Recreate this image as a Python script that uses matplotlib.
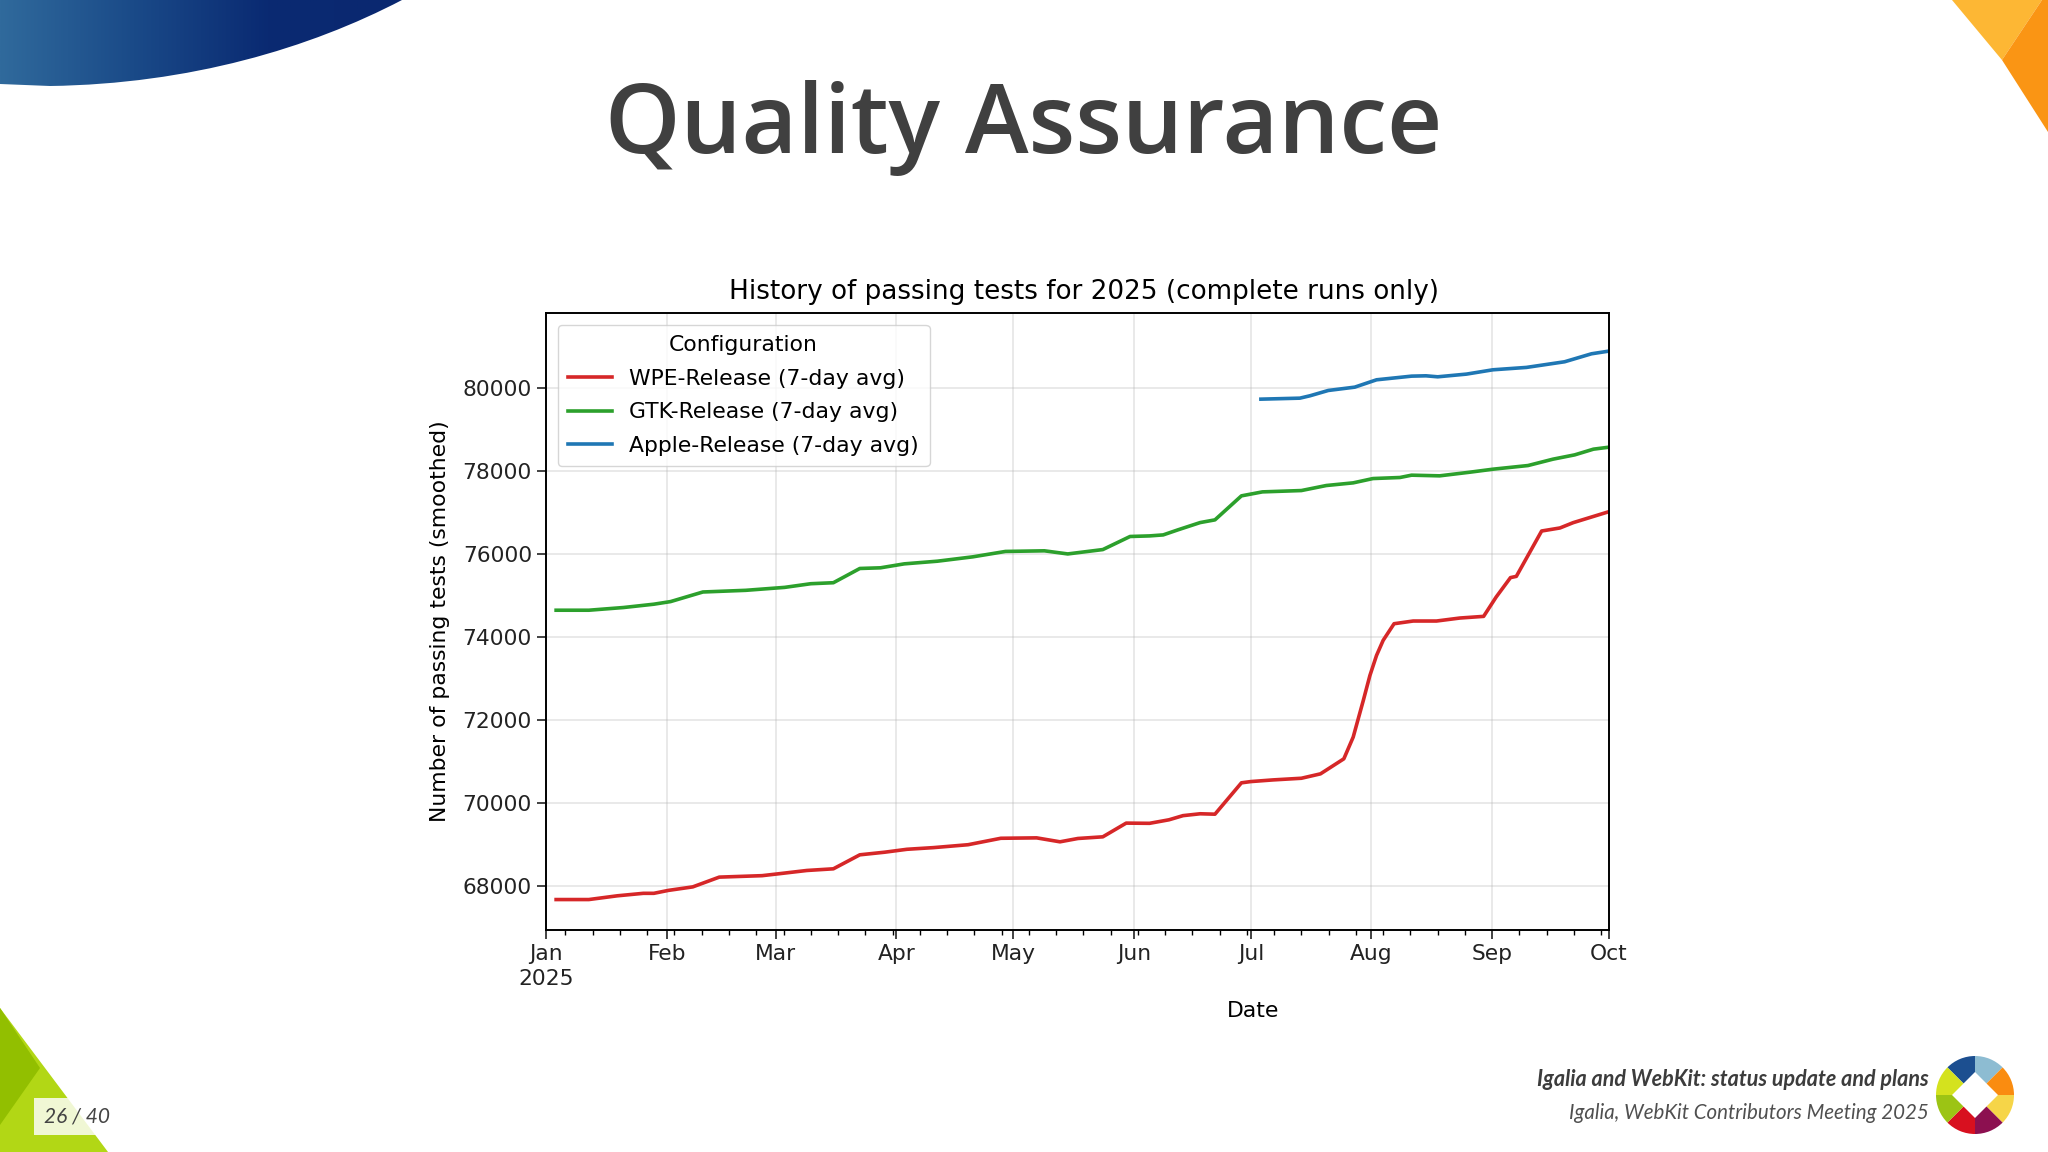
import numpy as np
import pandas as pd
import matplotlib
matplotlib.use('Agg')
import matplotlib.pyplot as plt
import matplotlib.dates as mdates
from matplotlib.patches import Polygon, PathPatch, Wedge, Rectangle
from matplotlib.path import Path

# days since 2025-01-01 and passing tests
wpe_days = [2.6, 11, 18.3, 25, 27.7, 31.4, 37.7, 44.5, 55.5, 59.7, 67, 73.8, 80.6, 87, 92.7, 99.5,
            108.4, 116.8, 126, 132, 136.6, 143, 149, 155, 160, 163.6, 168, 171.8, 178.6, 181, 186.7,
            194, 198.9, 204.9, 207.3, 209.9, 211.6, 213.3, 215, 217.8, 222.7, 228.7, 234.7, 240.8,
            244, 247.7, 249.2, 255.7, 260.4, 263.8, 268, 273]
wpe_vals = [67680, 67680, 67770, 67830, 67830, 67900, 67985, 68220, 68255, 68300, 68380, 68420, 68757,
            68820, 68890, 68930, 69000, 69155, 69165, 69070, 69150, 69190, 69520, 69515, 69600, 69700,
            69745, 69735, 70490, 70520, 70560, 70600, 70706, 71068, 71590, 72473, 73075, 73557, 73920,
            74320, 74385, 74385, 74457, 74497, 74960, 75430, 75460, 76552, 76625, 76753, 76874, 77018]

gtk_days = [2.6, 11, 19.9, 27.7, 32, 40.3, 51.3, 61.3, 68, 73.8, 80.6, 85.9, 92, 100.5, 109.6, 118,
            128, 134, 143, 150, 155, 158.5, 162.3, 168, 171.8, 178.6, 184, 194, 200.4, 207.3, 212.4,
            219.3, 222.3, 229.5, 237.3, 243.2, 252.2, 258.6, 264.2, 269, 273]
gtk_vals = [74645, 74645, 74710, 74790, 74853, 75084, 75124, 75195, 75283, 75307, 75650, 75666, 75761,
            75825, 75930, 76060, 76075, 76000, 76105, 76420, 76434, 76458, 76580, 76755, 76820, 77398,
            77494, 77526, 77647, 77711, 77815, 77840, 77896, 77880, 77968, 78040, 78128, 78281, 78385,
            78522, 78570]

apple_days = [183.6, 193.6, 196.2, 200.9, 207.7, 213.3, 222.3, 226, 229, 236.4, 243.2, 251.8, 261.6,
              268.5, 273]
apple_vals = [79726, 79750, 79807, 79935, 80015, 80192, 80280, 80288, 80264, 80329, 80433, 80490, 80626,
              80818, 80883]

month_starts = ['2025-01-01', '2025-02-01', '2025-03-01', '2025-04-01', '2025-05-01',
                '2025-06-01', '2025-07-01', '2025-08-01', '2025-09-01', '2025-10-01']
month_labels = ['Jan\n2025', 'Feb', 'Mar', 'Apr', 'May', 'Jun', 'Jul', 'Aug', 'Sep', 'Oct']
y_ticks = [68000, 70000, 72000, 74000, 76000, 78000, 80000]


def to_dates(days):
    return pd.Timestamp('2025-01-01') + pd.to_timedelta(days, unit='D')


fig = plt.figure(figsize=(20.48, 11.52), dpi=100, facecolor='white')

# slide furniture, drawn in pixel coordinates
bg = fig.add_axes([0, 0, 1, 1])
bg.set_xlim(0, 2048)
bg.set_ylim(1152, 0)
bg.axis('off')

blue_path = Path([(0, 0), (402, 0), (310, 48), (190, 84), (50, 86), (0, 84), (0, 0)],
                 [Path.MOVETO, Path.LINETO, Path.CURVE4, Path.CURVE4, Path.CURVE4, Path.LINETO, Path.CLOSEPOLY])
blue_patch = PathPatch(blue_path, fc='none', ec='none')
bg.add_patch(blue_patch)
grad = np.linspace(0, 1, 256).reshape(1, -1)
cmap = matplotlib.colors.LinearSegmentedColormap.from_list('b', ['#306a9c', '#1a4a88', '#0a2a72', '#0a2870'])
im = bg.imshow(grad, extent=(0, 402, 90, 0), cmap=cmap, aspect='auto', zorder=1)
im.set_clip_path(blue_patch)
bg.set_xlim(0, 2048)
bg.set_ylim(1152, 0)

bg.add_patch(Polygon([(1952, 0), (2002, 60), (2042, 0)], fc='#fdb734', ec='none'))
bg.add_patch(Polygon([(2042, 0), (2048, 0), (2048, 132), (2002, 60)], fc='#fa9514', ec='none'))

bg.add_patch(Polygon([(0, 1008), (108, 1152), (0, 1152)], fc='#b2d715', ec='none'))
bg.add_patch(Polygon([(0, 1008), (40, 1068), (0, 1125)], fc='#92bf00', ec='none'))
bg.add_patch(Rectangle((34, 1098), 78, 37, fc='white', alpha=0.82, ec='none'))
bg.text(44, 1117, '26 / 40', fontsize=15, style='italic', family='Lato', color='#444444', va='center')

bg.text(1024, 128, 'Quality Assurance', fontsize=69.2, fontweight='semibold', family='Open Sans',
        color='#404040', ha='center', va='center')
bg.text(1929, 1080, 'Igalia and WebKit: status update and plans', fontsize=15.5, fontweight='bold',
        style='italic', family='Lato', color='#3c3c3c', ha='right', va='center')
bg.text(1929, 1113, 'Igalia, WebKit Contributors Meeting 2025', fontsize=14.8, style='italic',
        family='Lato', color='#505050', ha='right', va='center')

# logo: four quarters, each split in two shades, white diamond on top
cx, cy, r = 1975, 1095, 39
logo = [(225, 270, '#1c4f90'), (270, 315, '#8dbcd2'), (315, 360, '#fa8c10'), (0, 45, '#f6d548'),
        (45, 90, '#8c1050'), (90, 135, '#d8101f'), (135, 180, '#9cc414'), (180, 225, '#d4e21e')]
for a, b, col in logo:
    bg.add_patch(Wedge((cx, cy), r, a, b, fc=col, ec='none'))
d = 23
bg.add_patch(Polygon([(cx, cy - d), (cx + d, cy), (cx, cy + d), (cx - d, cy)], fc='white', ec='none'))

# the chart itself
ax = fig.add_axes([546 / 2048, 1 - 930 / 1152, 1063 / 2048, 617 / 1152])
ax.plot(to_dates(wpe_days), wpe_vals, color='tab:red', lw=2.6, label='WPE-Release (7-day avg)')
ax.plot(to_dates(gtk_days), gtk_vals, color='tab:green', lw=2.6, label='GTK-Release (7-day avg)')
ax.plot(to_dates(apple_days), apple_vals, color='tab:blue', lw=2.6, label='Apple-Release (7-day avg)')

ax.set_xlim(pd.Timestamp('2025-01-01'), pd.Timestamp('2025-10-01'))
ax.set_ylim(66947, 81800)
ax.set_xticks(pd.to_datetime(month_starts))
ax.set_xticklabels(month_labels, linespacing=1.35)
ax.xaxis.set_minor_locator(mdates.WeekdayLocator(byweekday=mdates.MO))
ax.set_yticks(y_ticks)
ax.tick_params(axis='both', which='major', labelsize=15.7, length=6.5, width=1.2, colors='#222222')
ax.tick_params(axis='x', which='minor', length=3.5, width=1.0)
ax.grid(True, which='major', color='#b0b0b0', alpha=0.3, lw=1.3)
for s in ax.spines.values():
    s.set_linewidth(1.4)

ax.set_title('History of passing tests for 2025 (complete runs only)', fontsize=18.9, x=0.506, pad=10)
ax.set_ylabel('Number of passing tests (smoothed)', fontsize=15.75, labelpad=9)
ax.set_xlabel('Date', fontsize=15.75, x=0.665, labelpad=8.5)
ax.legend(title='Configuration', loc='upper left', fontsize=15.75, title_fontsize=15.75,
          borderaxespad=0.53, labelspacing=0.62, borderpad=0.48)

plt.savefig('out.png', dpi=100)
